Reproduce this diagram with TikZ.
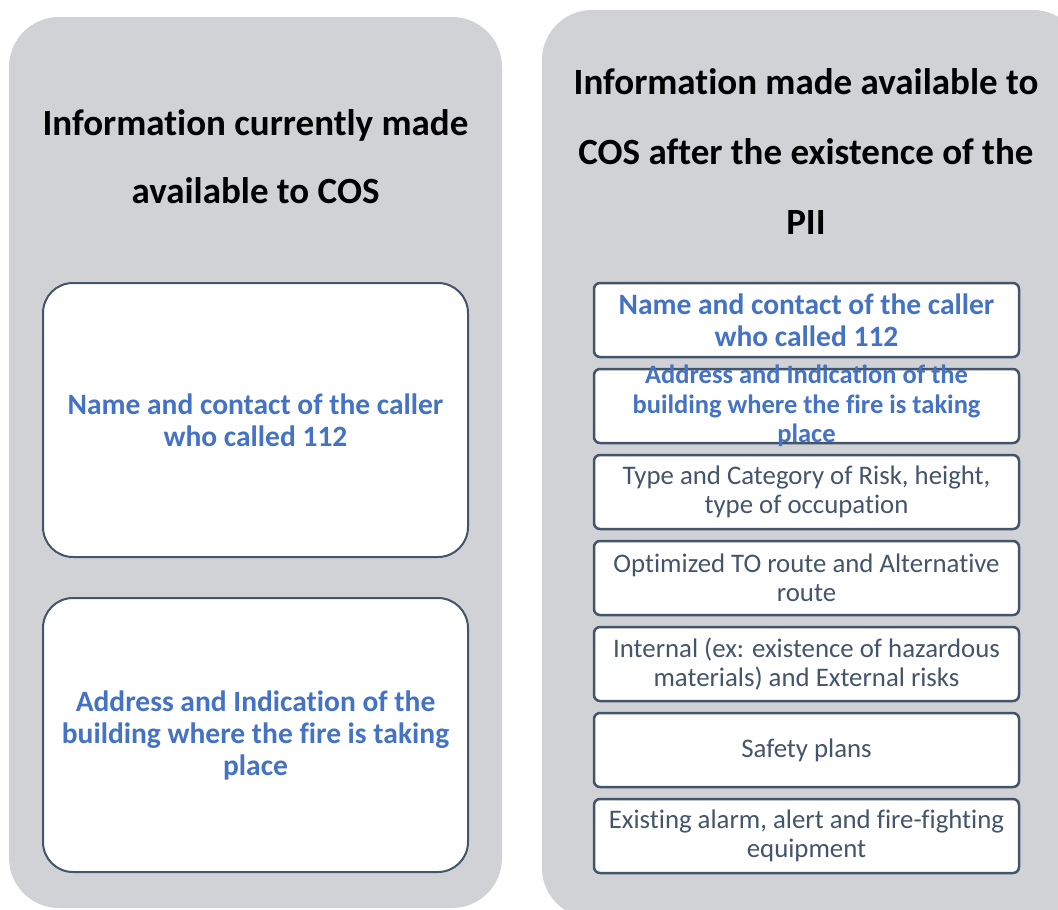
\documentclass[tikz,border=0pt]{standalone}
\usepackage{fontspec}
\setmainfont[Ligatures=NoCommon]{Carlito}
\usetikzlibrary{positioning}
\definecolor{panelgrey}{RGB}{208,210,214}
\definecolor{slate}{RGB}{68,84,106}
\definecolor{textblue}{RGB}{68,114,196}

\tikzstyle{panel} = [fill=panelgrey, rounded corners=50pt]
\tikzstyle{heading} = [align=center, font=\bfseries\fontsize{37}{68}\selectfont]
\tikzstyle{bigbox} = [draw=slate, line width=2pt, fill=white, rounded corners=30pt, minimum width=425pt, minimum height=274pt, inner sep=0pt, outer sep=0pt]
\tikzstyle{smallbox} = [draw=slate, line width=2.5pt, fill=white, rounded corners=6pt, minimum width=425pt, minimum height=74pt, inner sep=0pt, outer sep=0pt]
\tikzstyle{known} = [text=textblue, align=center, font=\bfseries\fontsize{29.5}{32}\selectfont]
\tikzstyle{extra} = [text=slate, align=center, font=\fontsize{26.8}{29}\selectfont]

\begin{document}
\begin{tikzpicture}[x=1pt, y=-1pt]
\useasboundingbox (0,0) rectangle (1058,910);
% grey panels
\path[panel] (9,17) rectangle (502,908);
\path[panel] (542,10) rectangle (1083,918);

\node[heading] (lefttitle) at (255.5,156.5) {Information currently made\\available to COS};
\node[heading, font=\bfseries\fontsize{37}{70}\selectfont] (righttitle) at (806,152) {Information made available to\\COS after the existence of the\\PII};

% what COS gets today
\node[bigbox, known] (now1) at (255.5,420) {Name and contact of the caller\\who called 112};
\node[bigbox, known, below=41pt of now1] (now2) {Address and Indication of the\\building where the fire is taking\\place};

% what COS gets with the PII
\node[smallbox, known] (pii1) at (806.5,320) {Name and contact of the caller\\who called 112};
\node[smallbox, below=12pt of pii1] (pii2) {};
\node[known, font=\bfseries\fontsize{26.5}{29.5}\selectfont] (pii2text) at (pii2) {Address and Indication of the\\building where the fire is taking\\place};
\node[smallbox, extra, below=12pt of pii2] (pii3) {Type and Category of Risk, height,\\type of occupation};
\node[smallbox, extra, below=12pt of pii3] (pii4) {Optimized TO route and Alternative\\route};
\node[smallbox, extra, below=12pt of pii4] (pii5) {Internal (ex: existence of hazardous\\materials) and External risks};
\node[smallbox, extra, below=12pt of pii5] (pii6) {Safety plans};
\node[smallbox, extra, below=12pt of pii6] (pii7) {Existing alarm, alert and fire-fighting\\equipment};
\end{tikzpicture}
\end{document}
